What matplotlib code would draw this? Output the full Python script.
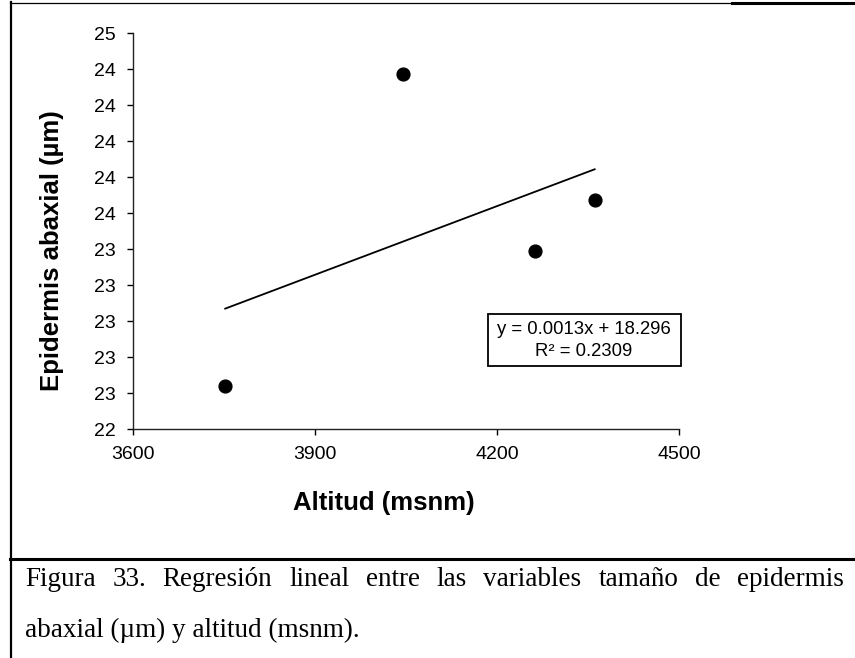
import numpy as np
import matplotlib
matplotlib.use("Agg")
import matplotlib.pyplot as plt
from matplotlib.lines import Line2D
from matplotlib.patches import Rectangle

# data
altitud = [3752, 4045, 4262, 4361]
epidermis = [22.64, 24.37, 23.39, 23.67]

x_ticks = [3600, 3900, 4200, 4500]
y_ticks = [22.4, 22.6, 22.8, 23.0, 23.2, 23.4, 23.6, 23.8, 24.0, 24.2, 24.4, 24.6]
y_tick_labels = ["22", "23", "23", "23", "23", "23", "24", "24", "24", "24", "24", "25"]

eq_lines = ["y = 0.0013x + 18.296", "R\u00b2 = 0.2309"]
caption_1 = "Figura 33. Regresión lineal entre las variables tamaño de epidermis"
caption_2 = "abaxial (µm) y altitud (msnm)."

W, H = 855, 658


def px(x, y):
    """pixel position (from top-left) -> figure fraction"""
    return x / W, 1 - y / H


fig = plt.figure(figsize=(W / 100, H / 100), dpi=100)
plt.rcParams["font.family"] = ["Liberation Sans", "DejaVu Sans"]

l, t = px(133, 33)
r, b = px(679, 429)
ax = fig.add_axes([l, b, r - l, t - b])

ax.scatter(altitud, epidermis, s=85, color="black", zorder=3)

slope, intercept = np.polyfit(altitud, epidermis, 1)
xs = np.array([min(altitud), max(altitud)])
ax.plot(xs, slope * xs + intercept, color="black", lw=1.3)

ax.set_xlim(x_ticks[0], x_ticks[-1])
ax.set_ylim(y_ticks[0], y_ticks[-1])
ax.set_xticks(x_ticks)
ax.set_xticklabels([str(v) for v in x_ticks])
ax.set_yticks(y_ticks)
ax.set_yticklabels(y_tick_labels)
ax.tick_params(direction="out", length=4.5, width=1, labelsize=14, pad=8, colors="black")
for side in ["top", "right"]:
    ax.spines[side].set_visible(False)
for side in ["left", "bottom"]:
    ax.spines[side].set_linewidth(1)
    ax.spines[side].set_color("#222222")

# axis titles
fig.text(*px(52, 251), "Epidermis abaxial (µm)", rotation=90, ha="center", va="center",
         fontsize=18.5, fontweight="bold")
fig.text(*px(384, 503), "Altitud (msnm)", ha="center", va="center",
         fontsize=18.5, fontweight="bold")

# trendline label
bx0, by0 = px(488, 366)
bx1, by1 = px(681, 314)
fig.patches.append(Rectangle((bx0, by0), bx1 - bx0, by1 - by0, transform=fig.transFigure,
                             fill=False, edgecolor="black", lw=1.3))
fig.text(*px(584, 330), eq_lines[0], ha="center", va="center", fontsize=13.3)
fig.text(*px(584, 352), eq_lines[1], ha="center", va="center", fontsize=13.3)

# frame lines of the document
def hline(x0, x1, y, lw):
    a, yy = px(x0, y)
    c, _ = px(x1, y)
    fig.add_artist(Line2D([a, c], [yy, yy], transform=fig.transFigure, color="black", lw=lw))

a, y0 = px(10.5, 2)
_, y1 = px(10.5, H)
fig.add_artist(Line2D([a, a], [y0, y1], transform=fig.transFigure, color="black", lw=1.6))
hline(10, 732, 2.5, 0.9)
hline(732, W, 3, 2.2)
hline(10, W, 559, 2.2)

# caption, first line justified
cap_font = dict(family=["Liberation Serif", "DejaVu Serif"], fontsize=19.5)
renderer = fig.canvas.get_renderer()
words = caption_1.split()
texts = [fig.text(0, 0, w_, va="baseline", ha="left", **cap_font) for w_ in words]
widths = [tx.get_window_extent(renderer).width for tx in texts]
left_px, right_px = 25, 844
gap = (right_px - left_px - sum(widths)) / (len(words) - 1)
cur = left_px
for tx, wd in zip(texts, widths):
    tx.set_position(px(cur, 586))
    cur += wd + gap
fig.text(*px(25, 637), caption_2, va="baseline", ha="left", **cap_font)

fig.savefig("out.png", dpi=100)
